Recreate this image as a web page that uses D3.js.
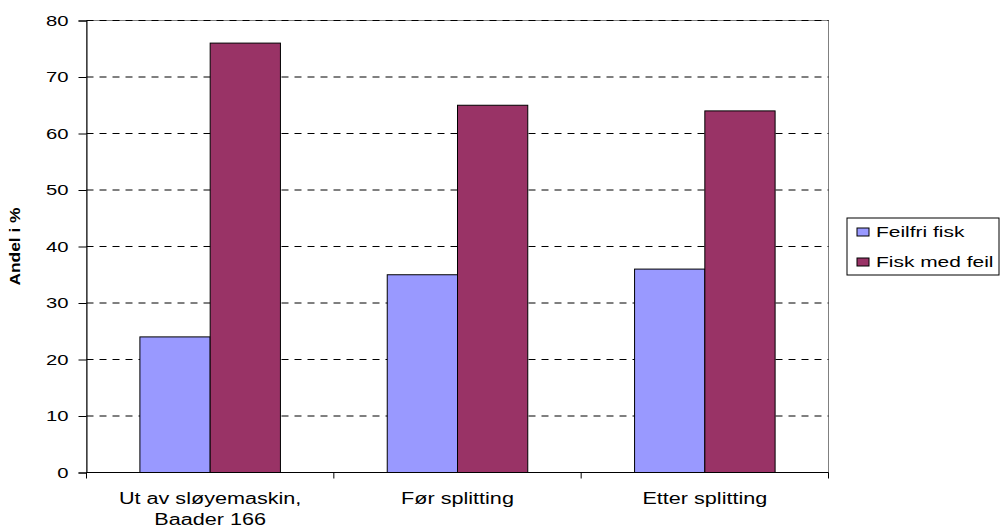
<!DOCTYPE html>
<meta charset="utf-8">
<style>
body{margin:0;background:#fff;}
text{font-family:"Liberation Sans",Arial,sans-serif;fill:#000;}
.tick text{font-size:15px;}
.grid line{stroke:#000;stroke-dasharray:7,6;stroke-width:1;}
</style>
<body>
<script src="https://cdn.jsdelivr.net/npm/d3@7"></script>
<script>

var categories=[["Ut av sløyemaskin,","Baader 166"],["Før splitting"],["Etter splitting"]];
var seriesNames=["Feilfri fisk","Fisk med feil"];
var feilfri=[24,35,36];
var medFeil=[76,65,64];
var yTicks=[0,10,20,30,40,50,60,70,80];
var color=["#9999FF","#993366"];

var W=1005,H=530;
var m={left:86.5,top:20.5,right:W-828.5,bottom:H-472.5};
var stretch=1.35; // the source text is drawn wide

var svg=d3.select("body").append("svg").attr("width",W).attr("height",H);

var x=d3.scaleBand().domain(d3.range(categories.length)).range([m.left,W-m.right]);
var y=d3.scaleLinear().domain([0,80]).range([H-m.bottom,m.top]);
var inner=d3.scaleBand().domain([0,1]).range([0,x.bandwidth()]).paddingOuter(0.76);

// plot frame (grey)
svg.append("rect").attr("x",m.left).attr("y",m.top)
	.attr("width",W-m.left-m.right).attr("height",H-m.top-m.bottom)
	.attr("fill","none").attr("stroke","#808080");

// gridlines
svg.append("g").attr("class","grid")
	.selectAll("line").data(yTicks.filter(d=>d>0)).enter().append("line")
	.attr("x1",m.left).attr("x2",W-m.right)
	.attr("y1",d=>y(d)).attr("y2",d=>y(d));

// bars
var data=[];
categories.forEach(function(c,i){
	data.push({c:i,s:0,v:feilfri[i]});
	data.push({c:i,s:1,v:medFeil[i]});
});
svg.append("g").selectAll("rect").data(data).enter().append("rect")
	.attr("x",d=>x(d.c)+inner(d.s))
	.attr("width",inner.bandwidth())
	.attr("y",d=>y(d.v))
	.attr("height",d=>y(0)-y(d.v))
	.attr("fill",d=>color[d.s])
	.attr("stroke","#000").attr("stroke-width",1);

// y axis
var ya=svg.append("g").attr("transform","translate("+m.left+",0)")
	.call(d3.axisLeft(y).tickValues(yTicks).tickSize(8).tickPadding(10));
ya.select(".domain").attr("stroke","#000");
ya.selectAll(".tick line").attr("stroke","#000");

// x axis
var xa=svg.append("g").attr("transform","translate(0,"+(H-m.bottom)+")");
xa.append("line").attr("x1",m.left).attr("x2",W-m.right).attr("stroke","#000");
xa.selectAll(".xt").data(d3.range(categories.length+1)).enter().append("line")
	.attr("x1",d=>d<categories.length?x(d):W-m.right)
	.attr("x2",d=>d<categories.length?x(d):W-m.right)
	.attr("y1",0).attr("y2",6).attr("stroke","#000");
xa.selectAll(".xl").data(categories).enter().append("text")
	.attr("x",(d,i)=>x(i)+x.bandwidth()/2)
	.attr("text-anchor","middle").style("font-size","16px")
	.each(function(d){
		var t=d3.select(this);
		d.forEach(function(line,j){
			t.append("tspan").attr("class","wide").attr("x",t.attr("x")).attr("y",31+j*21).text(line);
		});
	});

// y title
svg.append("text").attr("transform","translate(20,"+((m.top+H-m.bottom)/2)+") rotate(-90)")
	.attr("text-anchor","middle").style("font-size","14px").style("font-weight","bold")
	.attr("textLength",78).attr("lengthAdjust","spacingAndGlyphs")
	.text("Andel i %");

// legend
var lg=svg.append("g").attr("transform","translate(847,218)");
lg.append("rect").attr("width",152).attr("height",57).attr("fill","#fff").attr("stroke","#000");
seriesNames.forEach(function(n,i){
	lg.append("rect").attr("x",10).attr("y",10+i*30).attr("width",12).attr("height",8)
		.attr("fill",color[i]).attr("stroke","#000");
	lg.append("text").attr("class","wide").attr("x",29).attr("y",19+i*30).style("font-size","15.5px").text(n);
});

// widen the horizontal text
ya.selectAll(".tick text").classed("wide",true);
svg.selectAll(".wide").each(function(){
	var w=this.getComputedTextLength();
	d3.select(this).attr("textLength",w*stretch).attr("lengthAdjust","spacingAndGlyphs");
});
</script>
</body>
